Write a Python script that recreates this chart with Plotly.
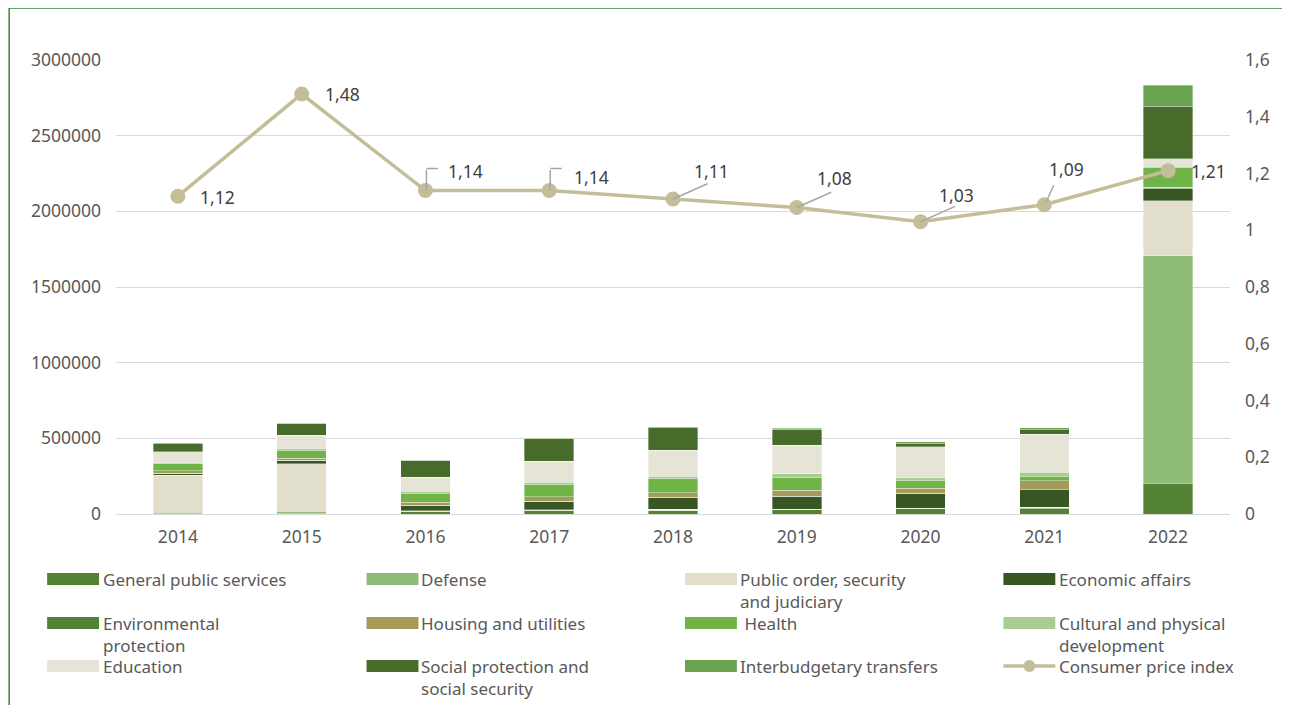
import plotly.graph_objects as go

years = ["2014", "2015", "2016", "2017", "2018", "2019", "2020", "2021", "2022"]

general_public_services = [5000, 3000, 15000, 22000, 22000, 28000, 35000, 38000, 203000]
defense = [6000, 15000, 2000, 3000, 4000, 2000, 2000, 2000, 1505000]
public_order = [245000, 314000, 3000, 3000, 6000, 3000, 2000, 5000, 361000]
economic_affairs = [13000, 22000, 36000, 55000, 77000, 81000, 96000, 114000, 83000]
environmental_protection = [1000, 1000, 1000, 2000, 2000, 2000, 2000, 2000, 5000]
housing_utilities = [15000, 15000, 20000, 29000, 29000, 40000, 33000, 59000, 3000]
health = [46000, 51000, 61000, 81000, 93000, 86000, 53000, 26000, 132000]
cultural_development = [9000, 11000, 11000, 15000, 17000, 24000, 18000, 31000, 5000]
education = [73000, 88000, 93000, 139000, 170000, 187000, 205000, 251000, 51000]
social_protection = [56000, 77000, 112000, 148000, 152000, 106000, 20000, 28000, 346000]
interbudgetary_transfers = [2000, 3000, 2000, 3000, 3000, 9000, 13000, 13000, 139000]

cpi = [1.12, 1.48, 1.14, 1.14, 1.11, 1.08, 1.03, 1.09, 1.21]

left_ticks = [0, 500000, 1000000, 1500000, 2000000, 2500000, 3000000]
right_ticks = [0, 0.2, 0.4, 0.6, 0.8, 1.0, 1.2, 1.4, 1.6]
right_tick_labels = ["0", "0,2", "0,4", "0,6", "0,8", "1", "1,2", "1,4", "1,6"]

series = [
    ("General public services", "General public services", general_public_services, "#548235"),
    ("Defense", "Defense", defense, "#8FBB78"),
    ("Public order, security and judiciary", "Public order, security<br>and judiciary", public_order, "#E1DECB"),
    ("Economic affairs", "Economic affairs", economic_affairs, "#375623"),
    ("Environmental protection", "Environmental<br>protection", environmental_protection, "#538135"),
    ("Housing and utilities", "Housing and utilities", housing_utilities, "#A49A5C"),
    ("Health", " Health", health, "#70B347"),
    ("Cultural and physical development", "Cultural and physical<br>development", cultural_development, "#A8CD92"),
    ("Education", "Education", education, "#E6E4D6"),
    ("Social protection and social security", "Social protection and<br>social security", social_protection, "#476B2B"),
    ("Interbudgetary transfers", "Interbudgetary transfers", interbudgetary_transfers, "#6AA350"),
]
cpi_name = "Consumer price index"
cpi_color = "#C4BE98"

FONT = "Noto Sans"
TXT = "#595959"
FS = 17.5
FS_LEG = 17

# page has an 8px body margin; figure is offset by (8, 8)
OFF = 8
W, H = 1290 - 2 * OFF, 713 - 2 * OFF
L, T = 116 - OFF, 60 - OFF
R = W - (1232 - OFF)
B = H - (514 - OFF)
PW, PH = W - L - R, H - T - B


def px2x(px):  # page pixel -> paper
    return (px - OFF - L) / PW


def py2y(py):
    return (T + PH - (py - OFF)) / PH


fig = go.Figure()
for name, label, vals, color in series:
    fig.add_trace(go.Bar(
        x=years, y=vals, name=name,
        marker=dict(color=color, line=dict(color="rgba(255,255,255,0.45)", width=0.8)),
        showlegend=False, yaxis="y",
    ))

fig.add_trace(go.Scatter(
    x=years, y=cpi, name=cpi_name, yaxis="y2", mode="lines+markers",
    line=dict(color=cpi_color, width=3.5), marker=dict(color=cpi_color, size=15),
    showlegend=False,
))

# data labels for CPI (x given as category index)
label_style = dict(font=dict(family=FONT, size=FS, color="#404040"), xref="x", yref="y2")
lead = "#A6A6A6"
label_pos = [
    (0, 40, -1, None),
    (1, 41, 0, None),
    (2, 40, 20, "elbow"),
    (3, 42, 14, "elbow"),
    (4, 38, 28, "line"),
    (5, 38, 30, "line"),
    (6, 36, 27, "line"),
    (7, 22, 36, "short"),
    (8, 40, 0, None),
]
for i, dx, dy, kind in label_pos:
    txt = f"{cpi[i]:.2f}".replace(".", ",")
    fig.add_annotation(x=i, y=cpi[i], text=txt, showarrow=False,
                       xshift=dx, yshift=dy, **label_style)
    arrow = dict(x=i, y=cpi[i], text="", showarrow=True, arrowhead=0, arrowwidth=1.5,
                 arrowcolor=lead, xref="x", yref="y2")
    if kind == "elbow":
        fig.add_annotation(ax=0, ay=-22, xshift=1, **arrow)
        fig.add_annotation(ax=13, ay=0, xshift=1, yshift=22, **arrow)
    elif kind == "line":
        fig.add_annotation(ax=36, ay=-16, **arrow)
    elif kind == "short":
        fig.add_annotation(ax=8, ay=-18, xshift=2, yshift=3, **arrow)

# custom legend
col_sw = [47, 367, 686, 1005]
col_tx = [104, 423, 742, 1062]
row_y = [579, 623, 666]
line_gap = 22
items = [(lab, col) for _, lab, _, col in series] + [(cpi_name, None)]
shapes = []
for k, (lab, col) in enumerate(items):
    c, r = k % 4, k // 4
    cy = row_y[r]
    if col is not None:
        shapes.append(dict(type="rect", xref="paper", yref="paper",
                           x0=px2x(col_sw[c]), x1=px2x(col_sw[c] + 52),
                           y0=py2y(cy + 6), y1=py2y(cy - 6),
                           fillcolor=col, line=dict(width=0)))
    else:
        shapes.append(dict(type="line", xref="paper", yref="paper",
                           x0=px2x(col_sw[c]), x1=px2x(col_sw[c] + 52),
                           y0=py2y(cy), y1=py2y(cy), line=dict(color=cpi_color, width=3.5)))
        shapes.append(dict(type="circle", xref="paper", yref="paper",
                           x0=px2x(col_sw[c] + 20), x1=px2x(col_sw[c] + 32),
                           y0=py2y(cy + 6), y1=py2y(cy - 6),
                           fillcolor=cpi_color, line=dict(width=0)))
    for j, part in enumerate(lab.split("<br>")):
        fig.add_annotation(xref="paper", yref="paper", x=px2x(col_tx[c] - 2),
                           y=py2y(cy + j * line_gap), xanchor="left", yanchor="middle",
                           align="left", showarrow=False, text=part, borderpad=0,
                           font=dict(family=FONT, size=FS_LEG, color=TXT))

# frame
shapes.append(dict(type="rect", xref="paper", yref="paper", x0=px2x(9), x1=px2x(1310),
                   y0=py2y(760), y1=py2y(8), line=dict(color="#2E8B2E", width=1.5),
                   layer="below"))

fig.update_layout(
    width=W, height=H, margin=dict(l=L, r=R, t=T, b=B),
    paper_bgcolor="white", plot_bgcolor="white",
    barmode="stack", bargap=0.6,
    font=dict(family=FONT, size=FS, color=TXT),
    shapes=shapes, showlegend=False,
    xaxis=dict(type="category", range=[-0.5, 8.5], showgrid=False, showline=False, ticks="",
               tickfont=dict(family=FONT, size=FS, color=TXT), ticklabelstandoff=10),
    yaxis=dict(range=[0, 3000000], tickvals=left_ticks, tickformat="d",
               showgrid=True, gridcolor="#D9D9D9", gridwidth=1.3,
               zeroline=True, zerolinecolor="#D9D9D9", zerolinewidth=1.3,
               tickfont=dict(family=FONT, size=FS, color=TXT), ticklabelstandoff=14),
    yaxis2=dict(range=[0, 1.6], overlaying="y", side="right", tickvals=right_ticks,
                ticktext=right_tick_labels, showgrid=False, zeroline=False,
                tickfont=dict(family=FONT, size=FS, color=TXT), ticklabelstandoff=14),
)

fig.write_html("out.html")
